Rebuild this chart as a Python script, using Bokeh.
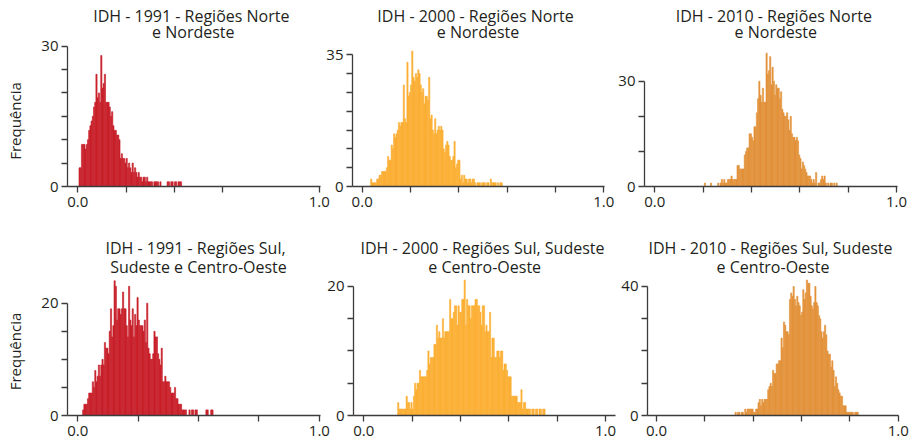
from math import pi
from bokeh.plotting import figure
from bokeh.models import Range1d, FixedTicker, NumeralTickFormatter, Label
from bokeh.layouts import row, column
from bokeh.embed import file_html
from bokeh.resources import INLINE

# ---------------- data ----------------
BIN = 0.005  # histogram bin width (IDH units)

title_1991_ne = ["IDH - 1991 - Regiões Norte", "e Nordeste"]
title_2000_ne = ["IDH - 2000 - Regiões Norte", "e Nordeste"]
title_2010_ne = ["IDH - 2010 - Regiões Norte", "e Nordeste"]
title_1991_s = ["IDH - 1991 - Regiões Sul,", "Sudeste e Centro-Oeste"]
title_2000_s = ["IDH - 2000 - Regiões Sul, Sudeste", "e Centro-Oeste"]
title_2010_s = ["IDH - 2010 - Regiões Sul, Sudeste", "e Centro-Oeste"]
y_label = "Frequência"

# first bin index (bin k covers [k*BIN, (k+1)*BIN)) and counts per bin
ne1991_first_bin = 1
ne1991_counts = [4, 4, 9, 9, 9, 8, 9, 10, 12, 13, 14, 15, 17, 18, 24, 19, 20, 18, 28, 21,
                 22, 24, 18, 18, 18, 17, 15, 16, 13, 12, 12, 11, 11, 10, 6, 7, 6, 6, 5, 6,
                 4, 5, 4, 3, 5, 3, 4, 3, 2, 3, 2, 2, 1, 2, 2, 1, 2, 1, 1, 1,
                 1, 0, 1, 1, 1, 1, 0, 1, 0, 0, 0, 0, 0, 1, 1, 0, 1, 1, 0, 1,
                 1, 0, 1, 1, 1]

ne2000_first_bin = 7
ne2000_counts = [2, 1, 1, 1, 1, 2, 2, 3, 3, 4, 4, 4, 4, 5, 8, 7, 7, 11, 10, 14,
                 13, 14, 15, 17, 16, 17, 17, 27, 18, 17, 33, 24, 25, 27, 36, 29, 28, 30, 29, 31,
                 30, 27, 25, 26, 22, 24, 24, 23, 29, 18, 19, 15, 14, 18, 14, 15, 16, 15, 16, 15,
                 10, 9, 11, 12, 11, 8, 7, 7, 8, 12, 5, 6, 7, 7, 2, 3, 1, 3, 2, 2,
                 1, 2, 2, 1, 2, 2, 1, 0, 1, 1, 1, 0, 1, 1, 1, 0, 1, 1, 0, 2,
                 1, 1, 1, 1, 0, 1, 0, 1, 1]

ne2010_first_bin = 41
ne2010_counts = [1, 0, 0, 0, 0, 1, 0, 0, 0, 0, 0, 1, 0, 1, 2, 1, 2, 1, 1, 2,
                 2, 2, 3, 2, 2, 2, 2, 6, 6, 5, 5, 5, 5, 9, 10, 11, 11, 15, 15, 14,
                 13, 17, 17, 21, 25, 30, 26, 24, 28, 24, 24, 38, 32, 33, 37, 29, 34, 30, 26, 29,
                 28, 28, 25, 27, 22, 21, 20, 20, 21, 19, 16, 20, 15, 14, 14, 13, 14, 13, 9, 8,
                 5, 7, 6, 5, 4, 3, 3, 3, 2, 1, 2, 1, 4, 0, 1, 1, 2, 3, 2, 3,
                 1, 0, 1, 0, 1, 1, 0, 1, 0, 1]

s1991_first_bin = 4
s1991_counts = [1, 2, 2, 2, 3, 4, 4, 4, 6, 5, 8, 6, 7, 9, 7, 9, 10, 9, 13, 12,
                12, 11, 15, 19, 14, 16, 24, 23, 17, 19, 19, 18, 19, 22, 19, 19, 16, 14, 23, 17,
                16, 19, 14, 18, 16, 21, 17, 16, 16, 16, 15, 17, 13, 20, 12, 11, 10, 10, 11, 15,
                14, 14, 11, 10, 9, 12, 6, 6, 7, 6, 6, 6, 5, 4, 4, 4, 5, 3, 3, 2,
                2, 2, 1, 1, 1, 1, 0, 0, 1, 0, 1, 1, 0, 1, 1, 0, 0, 0, 0, 0,
                0, 0, 1, 1, 0, 0, 1, 1]

s2000_first_bin = 28
s2000_counts = [2, 1, 1, 1, 1, 1, 1, 3, 2, 2, 1, 2, 1, 3, 5, 4, 5, 5, 7, 6,
                6, 6, 6, 6, 7, 10, 8, 9, 9, 9, 11, 11, 14, 12, 13, 12, 12, 15, 12, 13,
                13, 13, 13, 18, 15, 15, 16, 17, 17, 14, 17, 16, 16, 18, 18, 21, 14, 18, 17, 17,
                15, 17, 17, 17, 18, 18, 17, 17, 16, 14, 17, 17, 13, 14, 13, 13, 16, 9, 12, 12,
                9, 9, 10, 10, 9, 10, 10, 7, 8, 8, 7, 6, 6, 6, 3, 3, 3, 3, 3, 2,
                2, 2, 4, 1, 2, 2, 1, 1, 1, 1, 0, 1, 1, 0, 1, 1, 0, 1, 1, 0,
                1, 1]

s2010_first_bin = 65
s2010_counts = [1, 0, 1, 1, 0, 1, 1, 0, 2, 1, 2, 2, 2, 2, 2, 1, 1, 2, 2, 4,
                5, 3, 5, 4, 5, 5, 5, 8, 9, 10, 9, 14, 13, 13, 16, 16, 17, 17, 24, 21,
                29, 28, 26, 26, 25, 36, 38, 37, 40, 36, 34, 37, 35, 34, 31, 32, 39, 36, 38, 42,
                41, 41, 37, 34, 33, 35, 40, 35, 34, 31, 30, 26, 24, 26, 28, 25, 20, 19, 19, 15,
                17, 14, 9, 12, 10, 8, 7, 6, 6, 3, 3, 3, 1, 1, 1, 1, 1, 1, 0, 1,
                1, 1]

# ---------------- styling ----------------
FONT = "Open Sans"
TXT = "#231f20"
AX = "#3c3c3c"
RED = "#c8202a"
YEL = "#fbaf34"
ORA = "#e3923a"


def bare(fig):
    fig.grid.visible = False
    fig.outline_line_color = None
    fig.border_fill_alpha = 0
    fig.background_fill_alpha = 0


def ylabel_strip(height, cy):
    """narrow figure that only carries the rotated y-axis title"""
    p = figure(frame_width=26, frame_height=height, x_range=Range1d(0, 1),
               y_range=Range1d(0, 1), toolbar_location=None, output_backend="svg",
               x_axis_location=None, y_axis_location=None,
               min_border_left=0, min_border_right=0, min_border_top=0, min_border_bottom=0)
    bare(p)
    p.add_layout(Label(x=14.0, y=cy, x_units="screen", y_units="screen", text=y_label,
                       angle=pi / 2, text_align="center", text_baseline="middle",
                       text_font=FONT, text_font_size="15px", text_color=TXT))
    return p


def panel(first_bin, counts, color, titles, cfg):
    p = figure(frame_width=cfg["fw"], frame_height=cfg["fh"],
               x_range=Range1d(*cfg["xr"]), y_range=Range1d(0, cfg["ytop"]),
               toolbar_location=None, output_backend="svg",
               min_border_left=cfg["bl"], min_border_right=cfg["br"],
               min_border_top=cfg["bt"], min_border_bottom=cfg["bb"])
    xs = [(first_bin + i + 0.5) * BIN for i in range(len(counts))]
    p.vbar(x=xs, top=counts, bottom=0, width=BIN, fill_color=color,
           line_color=color, line_width=0.6)
    bare(p)

    for ax in (p.xaxis[0], p.yaxis[0]):
        ax.axis_line_color = AX
        ax.axis_line_width = 1.3
        ax.major_tick_line_color = AX
        ax.major_tick_line_width = 1.3
        ax.minor_tick_line_color = AX
        ax.minor_tick_line_width = 1.3
        ax.major_tick_in = 0
        ax.major_tick_out = 6
        ax.minor_tick_in = 0
        ax.minor_tick_out = 6
        ax.major_label_text_font = FONT
        ax.major_label_text_font_size = "15px"
        ax.major_label_text_color = TXT
    p.xaxis.major_label_standoff = 4
    p.yaxis.major_label_standoff = 3

    p.xaxis.ticker = FixedTicker(ticks=[0, 1], minor_ticks=cfg["xminor"])
    p.xaxis.formatter = NumeralTickFormatter(format="0.0")
    p.yaxis.ticker = FixedTicker(ticks=[0, cfg["ylab"]], minor_ticks=cfg["yminor"])
    p.yaxis.formatter = NumeralTickFormatter(format="0")
    p.yaxis.bounds = (0, cfg["ylab"])

    for text, (cx, cy) in zip(titles, cfg["tpos"]):
        p.add_layout(Label(x=cx, y=cy, x_units="screen", y_units="screen", text=text,
                           text_align="center", text_baseline="alphabetic",
                           text_font=FONT, text_font_size="16px", text_color=TXT))
    if cfg.get("margin") is not None:
        p.margin = cfg["margin"]
    return p


top = dict(fh=181, bt=5, bb=39)
bot = dict(fh=185, bt=5, bb=27)

p1 = panel(ne1991_first_bin, ne1991_counts, RED, title_1991_ne, dict(
    top, fw=253, xr=(-0.0426, 1.0054), ytop=38.70, ylab=30, yminor=[5, 10, 15, 20, 25],
    xminor=[0.2, 0.4, 0.6], bl=41, br=16, tpos=[(123.8, 170.8), (125.8, 154.2)]))
p2 = panel(ne2000_first_bin, ne2000_counts, YEL, title_2000_ne, dict(
    top, fw=252, xr=(-0.040, 1.003), ytop=48.10, ylab=35, yminor=[5, 10, 15, 20, 25, 30],
    xminor=[0.2, 0.4, 0.6, 0.8], bl=52, br=26, tpos=[(123, 170.8), (125.5, 154.2)],
    margin=(0, 0, 0, -36)))
p3 = panel(ne2010_first_bin, ne2010_counts, ORA, title_2010_ne, dict(
    top, fw=253, xr=(-0.0426, 1.004), ytop=51.57, ylab=30, yminor=[10, 20],
    xminor=[0.2, 0.4, 0.6, 0.8], bl=34, br=12, tpos=[(129.3, 170.8), (131.3, 154.2)],
    margin=(0, 0, 0, -20)))
p4 = panel(s1991_first_bin, s1991_counts, RED, title_1991_s, dict(
    bot, fw=253, xr=(-0.0426, 1.0046), ytop=32.95, ylab=20, yminor=[5, 10, 15],
    xminor=[0.25, 0.5, 0.75], bl=41, br=16, tpos=[(128, 167.2), (131, 148.2)]))
p5 = panel(s2000_first_bin, s2000_counts, YEL, title_2000_s, dict(
    bot, fw=262, xr=(-0.0426, 1.0414), ytop=28.68, ylab=20, yminor=[5, 10, 15],
    xminor=[0.2, 0.4, 0.6, 0.8], bl=53, br=15, tpos=[(129, 167.2), (131.2, 148.2)],
    margin=(0, 0, 0, -36)))
p6 = panel(s2010_first_bin, s2010_counts, ORA, title_2010_s, dict(
    bot, fw=251, xr=(-0.0372, 1.0012), ytop=57.36, ylab=40, yminor=[10, 20, 30],
    xminor=[0.2, 0.4, 0.6, 0.8], bl=37, br=11, tpos=[(123, 167.2), (125.5, 148.2)],
    margin=(0, 0, 0, -20)))

lab_top = ylabel_strip(225, 109.5)
lab_bot = ylabel_strip(217, 96.0)

layout = column(row(lab_top, p1, p2, p3), row(lab_bot, p4, p5, p6))
open("out.html", "w").write(file_html(layout, INLINE))
